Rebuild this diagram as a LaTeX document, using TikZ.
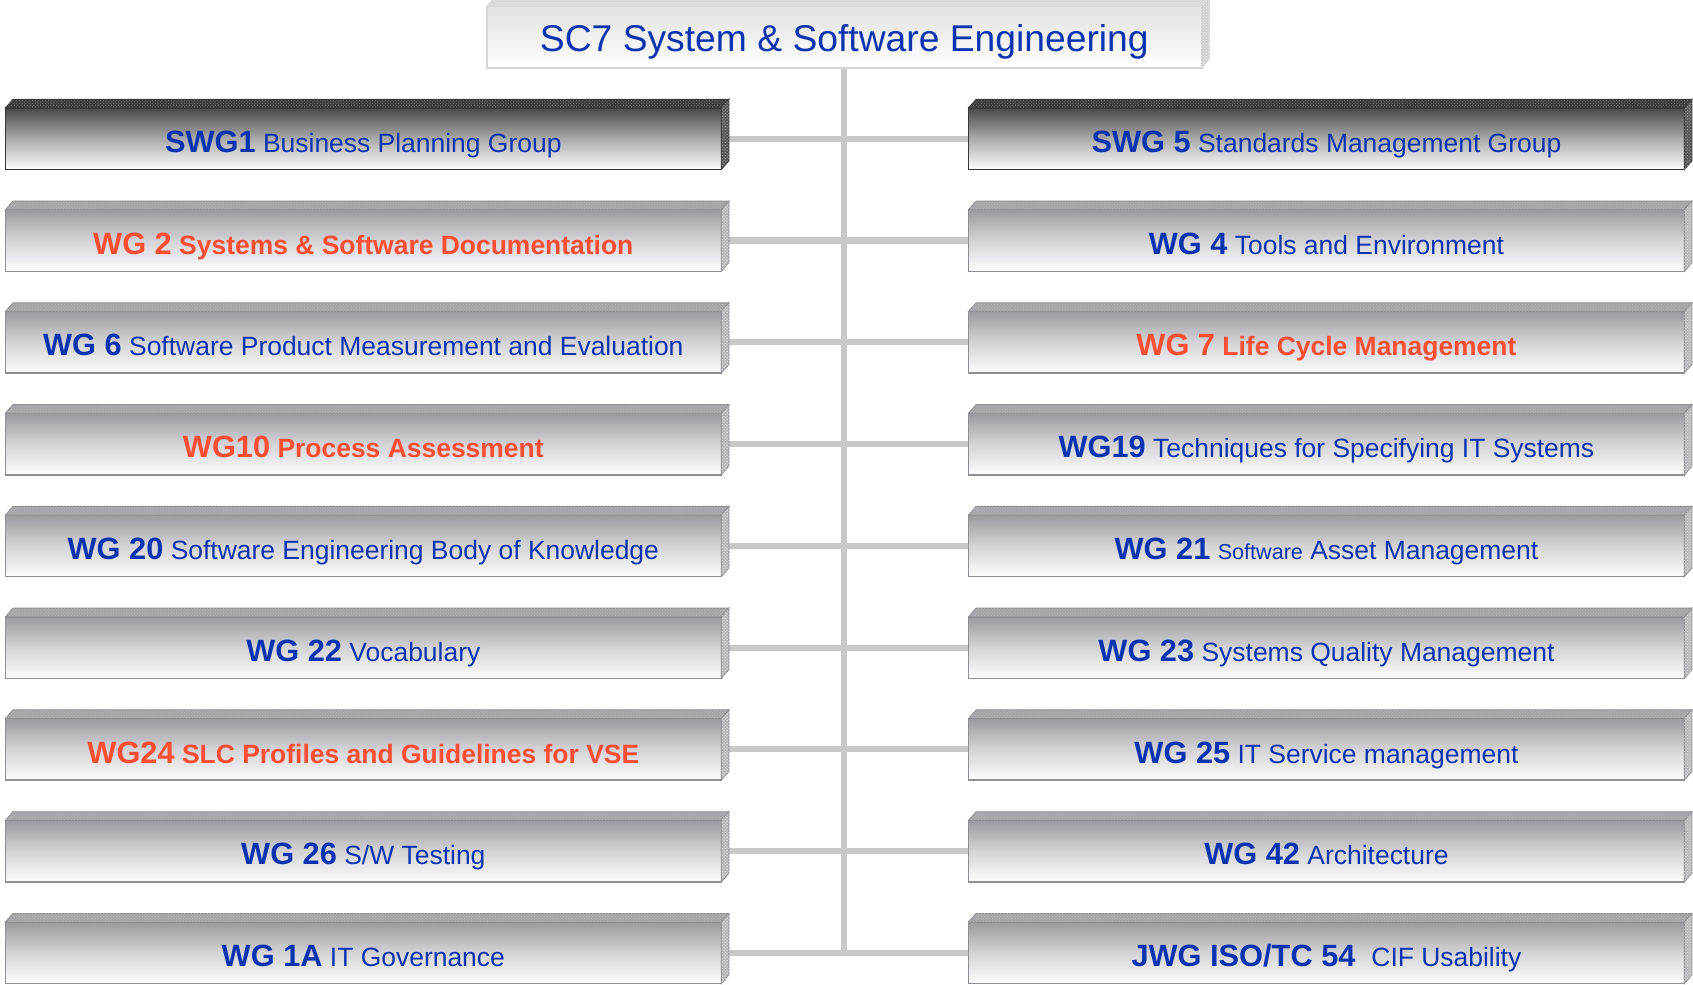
\documentclass[tikz,border=0pt]{standalone}
\usepackage{fontspec}
\setmainfont{Liberation Sans}
\usetikzlibrary{backgrounds,patterns}
\definecolor{wgblue}{HTML}{0A33B0}
\definecolor{wgred}{HTML}{FF4D33}
\definecolor{trunkgrey}{HTML}{C8C8C8}
\definecolor{darkedge}{HTML}{383838}
\definecolor{darktop}{HTML}{4A4A4A}
\definecolor{darkmid}{HTML}{ABABAB}
\definecolor{darkface}{HTML}{3A3A3A}
\definecolor{darksideface}{HTML}{555555}
\definecolor{greyedge}{HTML}{8E8E94}
\definecolor{greytop}{HTML}{9A9AA0}
\definecolor{greymid}{HTML}{D4D4D8}
\definecolor{greyface}{HTML}{A6A6AA}
\definecolor{greysideface}{HTML}{B8B8BC}
\definecolor{titleedge}{HTML}{D6D6D6}
\definecolor{titletop}{HTML}{E2E2E2}
\definecolor{titleface}{HTML}{DADADA}
\definecolor{titlesideface}{HTML}{D0D0D0}
\newcommand\lbl[1]{{\fontsize{28.5}{30}\selectfont\bfseries #1}}
\newcommand\rst[1]{{\fontsize{24.5}{26}\selectfont #1}}
\newcommand\rsb[1]{{\fontsize{24.5}{26}\selectfont\bfseries #1}}
\newcommand\wgbox[5][]{%
  \node[#3front,#1] (#2) at (#4) {#5};
  \path[#3topface] (#2.north west) -- ++(7,-8) -- ([shift={(7,-8)}]#2.north east) -- (#2.north east) -- cycle;
  \path[#3sideface] (#2.north east) -- ++(7,-8) -- ([shift={(7,-8)}]#2.south east) -- (#2.south east) -- cycle;
}
\tikzset{
  boxbase/.style={minimum width=663pt, minimum height=57pt, inner sep=0pt, outer sep=0pt,
    text height=30pt, text depth=4.6pt, line width=1.4pt, text=wgblue,
    font=\fontsize{24.5}{26}\selectfont},
  darkfront/.style={boxbase, draw=darkedge, top color=darktop, bottom color=white, middle color=darkmid},
  darktopface/.style={fill=darkface, draw=darkedge, line width=0.8pt,
    postaction={pattern=crosshatch dots, pattern color=gray}},
  darksideface/.style={fill=darksideface, draw=darkedge, line width=0.8pt,
    postaction={pattern=crosshatch dots, pattern color=lightgray}},
  greyfront/.style={boxbase, draw=greyedge, top color=greytop, bottom color=white!98!gray, middle color=greymid},
  greytopface/.style={fill=greyface, draw=greyedge, line width=0.8pt,
    postaction={pattern=crosshatch dots, pattern color=greysideface}},
  greysideface/.style={fill=greysideface, draw=greyedge, line width=0.8pt,
    postaction={pattern=crosshatch dots, pattern color=white!85!gray}},
  titlefront/.style={boxbase, minimum width=662pt, draw=titleedge, top color=titletop, bottom color=white,
    text height=30pt, text depth=4.3pt, font=\fontsize{34.5}{40}\selectfont},
  titletopface/.style={fill=titleface, draw=titleedge, line width=0.8pt},
  titlesideface/.style={fill=titlesideface, draw=titleedge, line width=0.8pt,
    postaction={pattern=crosshatch dots, pattern color=white!92!gray}},
  conn/.style={draw=trunkgrey, line width=5.6pt},
  redtext/.style={text=wgred}
}
\begin{document}
\begin{tikzpicture}[x=1pt,y=-1pt]
\useasboundingbox (0,0) rectangle (1568,912);
\wgbox{title}{title}{782,34.5}{SC7 System \& Software Engineering}
% left column
\wgbox{L1}{dark}{336.5,128.5}{\lbl{SWG1} \rst{Business Planning Group}}
\wgbox[redtext]{L2}{grey}{336.5,222.75}{\lbl{WG 2} \rsb{Systems \& Software Documentation}}
\wgbox{L3}{grey}{336.5,317}{\lbl{WG 6} \rst{Software Product Measurement and Evaluation}}
\wgbox[redtext]{L4}{grey}{336.5,411.25}{\lbl{WG10} \rsb{Process Assessment}}
\wgbox{L5}{grey}{336.5,505.5}{\lbl{WG 20} \rst{Software Engineering Body of Knowledge}}
\wgbox{L6}{grey}{336.5,599.75}{\lbl{WG 22} \rst{Vocabulary}}
\wgbox[redtext]{L7}{grey}{336.5,694}{\lbl{WG24} \rsb{SLC Profiles and Guidelines for VSE}}
\wgbox{L8}{grey}{336.5,788.25}{\lbl{WG 26} \rst{S/W Testing}}
\wgbox{L9}{grey}{336.5,882.5}{\lbl{WG 1A} \rst{IT Governance}}
% right column
\wgbox{R1}{dark}{1228.5,128.5}{\lbl{SWG 5} \rst{Standards Management Group}}
\wgbox{R2}{grey}{1228.5,222.75}{\lbl{WG 4} \rst{Tools and Environment}}
\wgbox[redtext]{R3}{grey}{1228.5,317}{\lbl{WG 7} \rsb{Life Cycle Management}}
\wgbox{R4}{grey}{1228.5,411.25}{\lbl{WG19} \rst{Techniques for Specifying IT Systems}}
\wgbox{R5}{grey}{1228.5,505.5}{\lbl{WG 21} {\fontsize{20}{22}\selectfont Software} \rst{Asset Management}}
\wgbox{R6}{grey}{1228.5,599.75}{\lbl{WG 23} \rst{Systems Quality Management}}
\wgbox{R7}{grey}{1228.5,694}{\lbl{WG 25} \rst{IT Service management}}
\wgbox{R8}{grey}{1228.5,788.25}{\lbl{WG 42} \rst{Architecture}}
\wgbox{R9}{grey}{1228.5,882.5}{\lbl{JWG ISO/TC 54\ } \rst{CIF Usability}}
\begin{scope}[on background layer]
  \draw[conn] (title.south) -- (title.south |- L9.east);
  \foreach \k in {1,...,9} {
    \draw[conn] (L\k.east) -- (R\k.west);
  }
\end{scope}
\end{tikzpicture}
\end{document}
